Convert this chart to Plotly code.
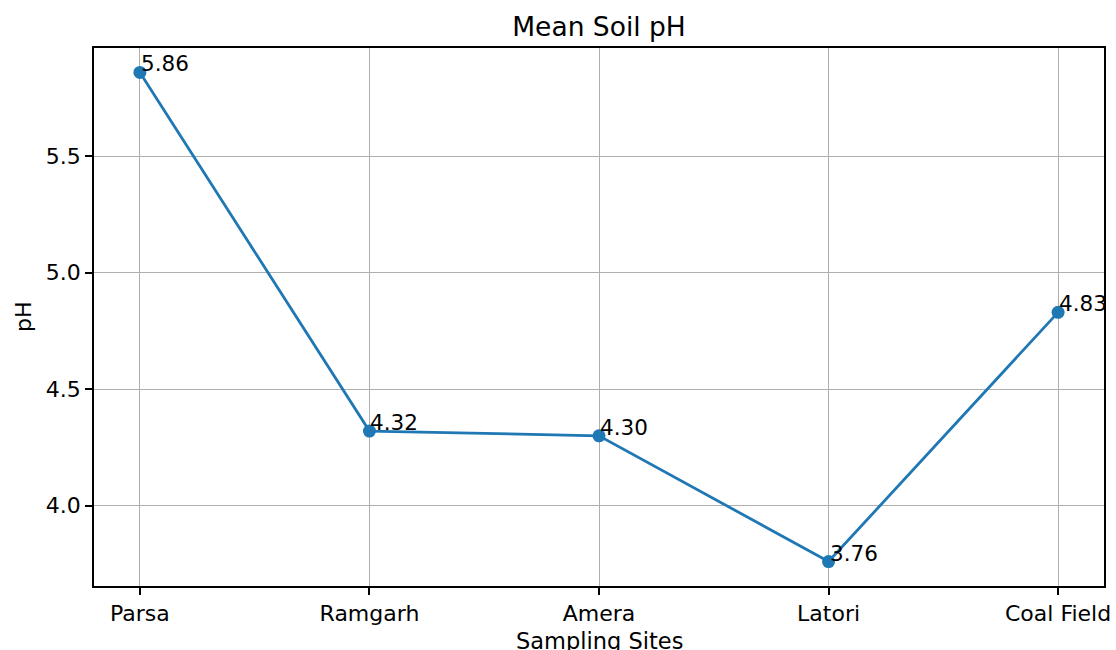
import plotly.graph_objects as go

sites = ["Parsa", "Ramgarh", "Amera", "Latori", "Coal Field"]
ph_values = [5.86, 4.32, 4.30, 3.76, 4.83]
y_ticks = [4.0, 4.5, 5.0, 5.5]

FONT = "DejaVu Sans"
idx = list(range(len(sites)))

fig = go.Figure()
fig.add_trace(go.Scatter(
    x=idx, y=ph_values, mode="lines+markers",
    line=dict(color="#1f77b4", width=2.8),
    marker=dict(color="#1f77b4", size=13),
    showlegend=False, cliponaxis=False,
))

for i, v in zip(idx, ph_values):
    fig.add_annotation(x=i, y=v, xref="x", yref="y", text=f"{v:.2f}",
                       showarrow=False, xanchor="left", yanchor="bottom",
                       yshift=-6, xshift=-1,
                       font=dict(family=FONT, size=21.5, color="black"))

# axis titles
fig.add_annotation(x=0.5, y=0, xref="paper", yref="paper", text="Sampling Sites",
                   showarrow=False, xanchor="center", yanchor="top", yshift=-40,
                   font=dict(family=FONT, size=22.5, color="black"))
fig.add_annotation(x=0, y=0.5, xref="paper", yref="paper", text="pH", textangle=-90,
                   showarrow=False, xanchor="center", yanchor="middle", xshift=-71,
                   font=dict(family=FONT, size=22, color="black"))

ymin, ymax = min(ph_values), max(ph_values)
pad = (ymax - ymin) * 0.05
n = len(sites) - 1
xpad = n * 0.05

fig.update_layout(
    width=1116, height=650,
    margin=dict(l=94, r=12, t=48, b=64),
    paper_bgcolor="white", plot_bgcolor="white",
    font=dict(family=FONT, size=22, color="black"),
    title=dict(text="Mean Soil pH", x=0.5, xref="paper", xanchor="center",
               y=1 - 27 / 650, yref="container", yanchor="middle",
               font=dict(family=FONT, size=26.5, color="black")),
)
fig.update_xaxes(
    range=[-xpad, n + xpad], tickmode="array", tickvals=idx, ticktext=sites,
    showgrid=True, gridcolor="#b0b0b0", gridwidth=1,
    showline=True, linecolor="black", linewidth=1.5, mirror=True,
    ticks="outside", ticklen=7, tickcolor="black", tickwidth=1.5,
    zeroline=False, automargin=False,
    tickfont=dict(family=FONT, size=22, color="black"),
)
fig.update_yaxes(
    range=[ymin - pad, ymax + pad], tickmode="array", tickvals=y_ticks,
    ticktext=[f"{t:.1f}" for t in y_ticks],
    showgrid=True, gridcolor="#b0b0b0", gridwidth=1,
    showline=True, linecolor="black", linewidth=1.5, mirror=True,
    ticks="outside", ticklen=7, tickcolor="black", tickwidth=1.5,
    zeroline=False, automargin=False,
    tickfont=dict(family=FONT, size=22, color="black"),
)

fig.write_html("out.html", config={"displayModeBar": False},
               post_script="document.body.style.margin='0';document.body.style.overflow='hidden';")
